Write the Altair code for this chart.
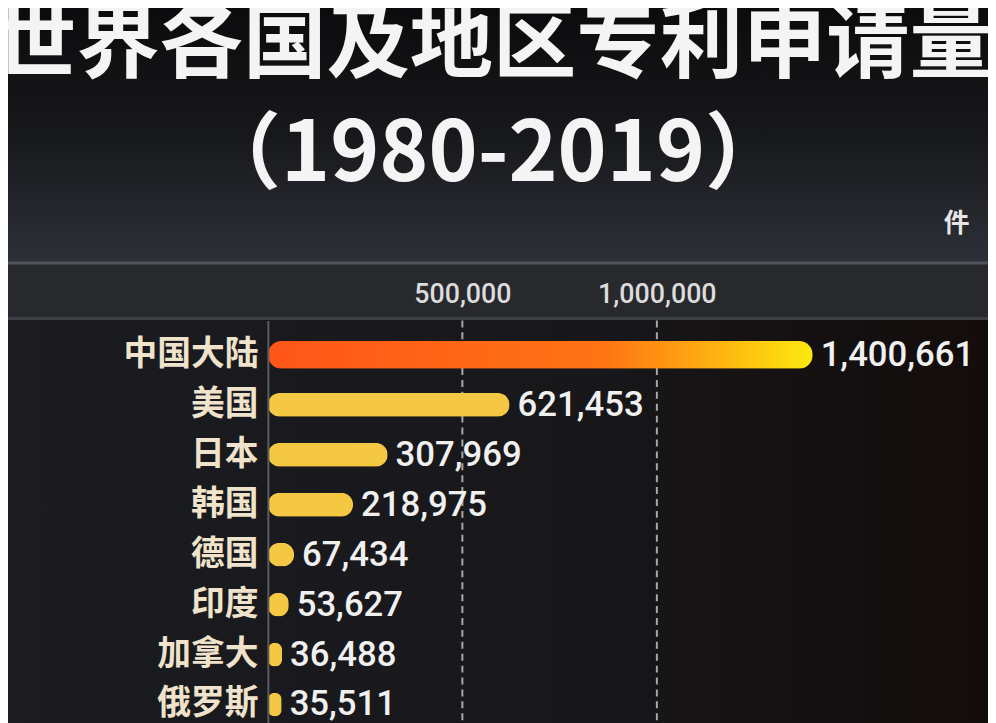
import altair as alt
import pandas as pd

countries = ["中国大陆", "美国", "日本", "韩国", "德国", "印度", "加拿大", "俄罗斯"]
values = [1400661, 621453, 307969, 218975, 67434, 53627, 36488, 35511]
tick_values = [500000, 1000000]
title_lines = ["世界各国及地区专利申请量", "（1980-2019）"]
unit_label = "件"

df = pd.DataFrame({"country": countries, "value": values})
ticks_df = pd.DataFrame({"tick": tick_values})
bg = pd.DataFrame({"k": [0]})

X_MAX = 1785000
W, H = 700, 422
PAD_L = 262

x_scale = alt.Scale(domain=[0, X_MAX])
y_enc = alt.Y("country:N", sort=countries, title=None,
              scale=alt.Scale(paddingInner=0.5, paddingOuter=0.44),
              axis=alt.Axis(labelFont="Noto Sans CJK SC", labelFontSize=34, labelFontWeight="bold",
                            labelColor="#efe3cc", labelPadding=10, ticks=False, tickSize=0,
                            domainColor="#5c5d62", domainWidth=2, zindex=1))
x_axis = alt.Axis(orient="top", values=tick_values, format=",.0f", title=unit_label,
                  titleFont="Noto Sans CJK SC", titleFontSize=26, titleColor="#e6e6e6",
                  titleFontWeight="bold", titleAngle=0, titleX=W - 6, titleY=-98,
                  titleAlign="center", titleBaseline="middle",
                  labelFont="Roboto", labelFontSize=27, labelColor="#dcdcdc", labelFontWeight=500,
                  labelPadding=12, ticks=False, tickSize=0, domain=False, grid=False, zindex=1)


def X(field):
    return alt.X(field, scale=x_scale, axis=x_axis, title=unit_label)


LEFT = -(PAD_L + 8)
RIGHT = 996 - PAD_L - 8

header = alt.Chart(bg).mark_rect(
    color=alt.LinearGradient(gradient="linear", x1=0, x2=0, y1=0, y2=1,
                             stops=[alt.GradientStop(offset=0, color="#0b0b0d"),
                                    alt.GradientStop(offset=0.5, color="#17181b"),
                                    alt.GradientStop(offset=1, color="#2d3038")])
).encode(x=alt.value(LEFT), x2=alt.value(RIGHT), y=alt.value(-320), y2=alt.value(-58))

plotbg = alt.Chart(bg).mark_rect(
    color=alt.LinearGradient(gradient="linear", x1=0, x2=1, y1=0, y2=0,
                             stops=[alt.GradientStop(offset=0, color="#1b1c20"),
                                    alt.GradientStop(offset=0.55, color="#18181b"),
                                    alt.GradientStop(offset=1, color="#130c0b")])
).encode(x=alt.value(LEFT), x2=alt.value(RIGHT), y=alt.value(-2), y2=alt.value(H + 20))

band = alt.Chart(bg).mark_rect(color="#27292d").encode(
    x=alt.value(LEFT), x2=alt.value(RIGHT), y=alt.value(-58), y2=alt.value(-2))
line_top = alt.Chart(bg).mark_rule(color="#50535a", strokeWidth=3).encode(
    x=alt.value(LEFT), x2=alt.value(RIGHT), y=alt.value(-58))
line_bot = alt.Chart(bg).mark_rule(color="#3d3f44", strokeWidth=3).encode(
    x=alt.value(LEFT), x2=alt.value(RIGHT), y=alt.value(-2))

TITLE_X = 497 - PAD_L - 8
title1 = alt.Chart(bg).mark_text(font="Noto Sans CJK SC", fontSize=84, fontWeight="bold",
                                 color="#f4f4f4", align="center", baseline="middle").encode(
    x=alt.value(TITLE_X), y=alt.value(-276), text=alt.value(title_lines[0]))
title2 = alt.Chart(bg).mark_text(font="Noto Sans CJK SC", fontSize=84, fontWeight="bold",
                                 color="#f4f4f4", align="center", baseline="middle").encode(
    x=alt.value(TITLE_X), y=alt.value(-166), text=alt.value(title_lines[1]))

grid = alt.Chart(ticks_df).mark_rule(color="#a8a8a8", strokeDash=[7, 5], strokeWidth=2).encode(
    x=X("tick:Q"))

base = alt.Chart(df)

china_bar = base.transform_filter(alt.datum.country == "中国大陆").mark_bar(
    size=28, cornerRadius=14,
    color=alt.LinearGradient(gradient="linear", x1=0, x2=1, y1=0, y2=0,
                             stops=[alt.GradientStop(offset=0, color="#ff5519"),
                                    alt.GradientStop(offset=0.62, color="#ff7414"),
                                    alt.GradientStop(offset=1, color="#fde90e")])
).encode(x=X("value:Q"), y=y_enc)

other_bars = base.transform_filter(alt.datum.country != "中国大陆").mark_bar(
    size=24, cornerRadius=12, color="#f4c843"
).encode(x=X("value:Q"), y=y_enc)

labels = base.mark_text(align="left", baseline="middle", dx=8, font="Roboto",
                        fontSize=35, fontWeight=500, color="#f0f0f0").encode(
    x=X("value:Q"), y=y_enc, text=alt.Text("value:Q", format=","))

chart = alt.layer(header, plotbg, band, line_top, line_bot, title1, title2, grid,
                  china_bar, other_bars, labels).properties(
    width=W, height=H,
    background="#17181c",
    padding={"left": PAD_L, "top": 312, "right": 988 - PAD_L - W, "bottom": 0},
    autosize=alt.AutoSizeParams(type="none"),
).configure_view(stroke=None)

chart.save("out.html", embed_options={"renderer": "svg", "actions": False})
